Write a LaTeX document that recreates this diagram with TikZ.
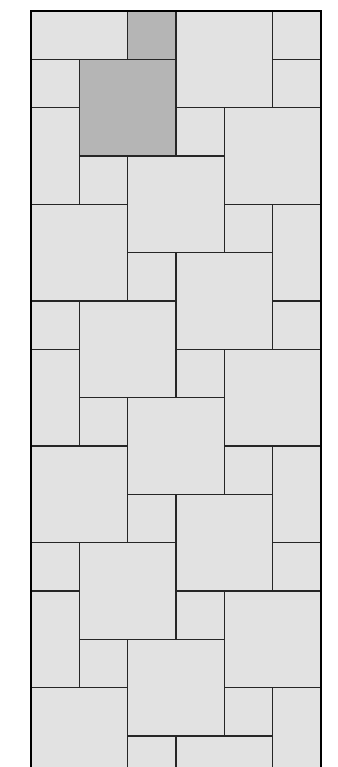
\documentclass[tikz,border=0pt]{standalone}
\usetikzlibrary{positioning}
\definecolor{tilelight}{HTML}{E2E2E2}
\definecolor{tiledark}{HTML}{B5B5B5}
\begin{document}
\begin{tikzpicture}[
    tile/.style={draw=black!85, fill=tilelight, line width=0.75pt},
    darktile/.style={tile, fill=tiledark},
    border/.style={draw=black, line width=1.2pt}
]
\useasboundingbox (-0.641,0.228) rectangle (6.352,-15.642);
\begin{scope}
\clip (0,0) rectangle (6,-15.642);
% one period of the pattern is five rows high
\foreach \k in {-1,...,2} {
  \begin{scope}[yshift={-5cm*\k}]
  % small squares
  \foreach \c/\r in {0/1, 5/1, 3/2, 1/3, 4/4, 2/5}
    \draw[tile] (\c,-\r) rectangle ++(1,-1);
  % large squares
  \foreach \c/\r in {1/1, 4/2, 2/3, 0/4, 3/5}
    \draw[tile] (\c,-\r) rectangle ++(2,-2);
  % upright rectangles
  \foreach \c/\r in {0/2, 5/4}
    \draw[tile] (\c,-\r) rectangle ++(1,-2);
  \end{scope}
}
% highlighted tiles
\draw[darktile] (2,0) rectangle ++(1,-1);
\draw[darktile] (1,-1) rectangle ++(2,-2);
\end{scope}
\draw[border] (0,-15.642) -- (0,0) -- (6,0) -- (6,-15.642);
\end{tikzpicture}
\end{document}
